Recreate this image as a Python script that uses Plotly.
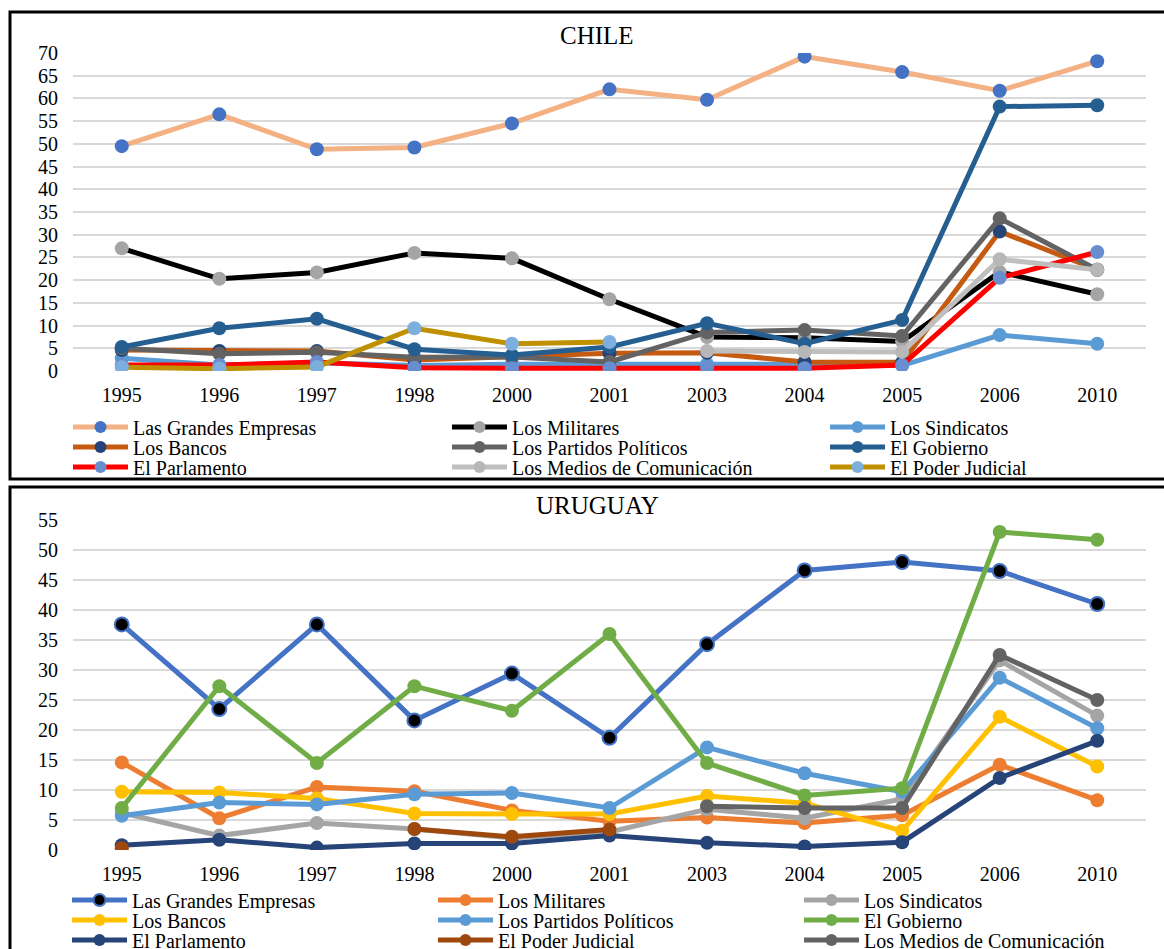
import plotly.graph_objects as go

# ---------------- data ----------------
years = ["1995", "1996", "1997", "1998", "2000", "2001", "2003", "2004", "2005", "2006", "2010"]

# Chile
cl_grandes_empresas = [49.5, 56.5, 48.8, 49.2, 54.5, 62.0, 59.7, 69.2, 65.8, 61.7, 68.2]
cl_militares = [27.0, 20.3, 21.7, 26.0, 24.8, 15.8, 7.5, 7.3, 6.5, 21.8, 16.9]
cl_sindicatos = [2.8, 1.3, 1.8, 1.2, 1.5, 1.5, 1.5, 1.5, 1.2, 7.9, 6.0]
cl_bancos = [4.6, 4.4, 4.4, 2.4, 3.1, 3.9, 4.0, 2.0, 1.9, 30.7, 22.3]
cl_partidos = [5.0, 3.8, 4.1, 3.0, 3.1, 2.0, 8.5, 9.0, 7.7, 33.6, 22.3]
cl_gobierno = [5.3, 9.4, 11.5, 4.8, 3.5, 5.3, 10.5, 6.0, 11.2, 58.2, 58.5]
cl_parlamento = [1.3, 1.3, 2.0, 0.7, 0.6, 0.6, 0.8, 0.6, 1.3, 20.5, 26.2]
cl_medios = [None, None, None, None, None, None, 4.4, 4.2, 4.2, 24.6, 22.3]
cl_poder_judicial = [0.8, 0.5, 0.9, 9.4, 6.0, 6.4, None, None, None, None, None]

# Uruguay
uy_grandes_empresas = [37.6, 23.5, 37.6, 21.6, 29.4, 18.7, 34.3, 46.6, 48.0, 46.5, 41.0]
uy_militares = [14.6, 5.3, 10.5, 9.8, 6.6, 4.8, 5.4, 4.5, 5.8, 14.2, 8.3]
uy_sindicatos = [6.2, 2.4, 4.5, 3.5, 2.0, 3.0, 6.8, 5.3, 8.5, 31.6, 22.4]
uy_bancos = [9.7, 9.6, 8.6, 6.1, 6.0, 6.0, 9.0, 7.8, 3.2, 22.2, 13.9]
uy_partidos = [5.7, 7.9, 7.6, 9.3, 9.5, 7.0, 17.1, 12.8, 9.7, 28.7, 20.3]
uy_gobierno = [7.0, 27.3, 14.5, 27.3, 23.2, 36.0, 14.5, 9.1, 10.3, 53.0, 51.7]
uy_parlamento = [0.8, 1.7, 0.4, 1.1, 1.1, 2.4, 1.2, 0.6, 1.3, 12.0, 18.2]
uy_poder_judicial = [0.3, None, None, 3.5, 2.2, 3.4, None, None, None, None, None]
uy_medios = [None, None, None, None, None, None, 7.3, 7.0, 7.0, 32.5, 25.0]

# ---------------- styling ----------------
W, H = 1164, 949
FONT = "Liberation Serif, Times New Roman, serif"


def px(x):
    return x / W


def py(y):
    return 1 - y / H


# (name, values, line colour, marker colour, marker outline)
chile = [
    ("Las Grandes Empresas", cl_grandes_empresas, "#F4B183", "#4472C4", None),
    ("Los Militares", cl_militares, "#000000", "#A5A5A5", None),
    ("Los Sindicatos", cl_sindicatos, "#5B9BD5", "#5B9BD5", None),
    ("Los Bancos", cl_bancos, "#C55A11", "#264478", None),
    ("Los Partidos Políticos", cl_partidos, "#636363", "#636363", None),
    ("El Gobierno", cl_gobierno, "#255E91", "#255E91", None),
    ("El Parlamento", cl_parlamento, "#FF0000", "#698ED0", None),
    ("Los Medios de Comunicación", cl_medios, "#BFBFBF", "#B7B7B7", None),
    ("El Poder Judicial", cl_poder_judicial, "#BF9000", "#7CAFDD", None),
]

uruguay = [
    ("Las Grandes Empresas", uy_grandes_empresas, "#4472C4", "#000000", "#4472C4"),
    ("Los Militares", uy_militares, "#ED7D31", "#ED7D31", None),
    ("Los Sindicatos", uy_sindicatos, "#A5A5A5", "#A5A5A5", None),
    ("Los Bancos", uy_bancos, "#FFC000", "#FFC000", None),
    ("Los Partidos Políticos", uy_partidos, "#5B9BD5", "#5B9BD5", None),
    ("El Gobierno", uy_gobierno, "#70AD47", "#70AD47", None),
    ("El Parlamento", uy_parlamento, "#264478", "#264478", None),
    ("El Poder Judicial", uy_poder_judicial, "#9E480E", "#9E480E", None),
    ("Los Medios de Comunicación", uy_medios, "#636363", "#636363", None),
]

# legend grid: column x (left of legend symbol) and row y centres, in pixels
chile_cols = [68, 447, 825]
chile_rows = [427, 447, 467]
uy_cols = [67, 433, 799]
uy_rows = [900, 920, 940]

legend_font = dict(family=FONT, size=20, color="#000000")
legend_common = dict(font=legend_font, bgcolor="rgba(0,0,0,0)", borderwidth=0,
                     itemwidth=55, itemsizing="constant", xanchor="left",
                     yanchor="middle", itemclick=False, itemdoubleclick=False)

fig = go.Figure()
legend_layout = {}
legend_counter = [0]


def add_panel(rows, xa, ya, cols, row_ys, msize):
    for i, (name, vals, lc, mc, mo) in enumerate(rows):
        legend_counter[0] += 1
        n = legend_counter[0]
        lid = "legend" if n == 1 else f"legend{n}"
        legend_layout[lid] = dict(x=px(cols[i % 3]), y=py(row_ys[i // 3]), **legend_common)
        marker = dict(color=mc, size=msize)
        if mo:
            marker["line"] = dict(color=mo, width=2)
        fig.add_trace(go.Scatter(
            x=years, y=vals, name=name, mode="lines+markers",
            line=dict(color=lc, width=5),
            marker=marker,
            xaxis=xa, yaxis=ya,
            legend=lid,
            connectgaps=False,
        ))


add_panel(chile, "x", "y", chile_cols, chile_rows, 14)
add_panel(uruguay, "x2", "y2", uy_cols, uy_rows, 14)

tick_font = dict(family=FONT, size=20, color="#000000")
xdom = [px(73), px(1146)]

common_x = dict(type="category", range=[-0.5, 10.5], showgrid=False, zeroline=False,
                showline=False, ticks="", tickfont=tick_font, ticklabelstandoff=10)
common_y = dict(dtick=5, showgrid=True, gridcolor="#D9D9D9", gridwidth=2, zeroline=False,
                showline=False, ticks="", tickfont=tick_font, ticklabelstandoff=14)

layout = dict(
    width=W, height=H,
    margin=dict(l=0, r=0, t=0, b=0, autoexpand=False),
    paper_bgcolor="#FFFFFF", plot_bgcolor="#FFFFFF",
    showlegend=True,
    xaxis=dict(domain=xdom, anchor="y", **common_x),
    yaxis=dict(domain=[py(371), py(53)], range=[0, 70], anchor="x", **common_y),
    xaxis2=dict(domain=xdom, anchor="y2", **common_x),
    yaxis2=dict(domain=[py(850), py(520)], range=[0, 55], anchor="x2", **common_y),
    annotations=[
        dict(text="CHILE", x=px(597), y=py(36), xref="paper", yref="paper",
             xanchor="center", yanchor="middle", showarrow=False,
             font=dict(family=FONT, size=25, color="#000000")),
        dict(text="URUGUAY", x=px(597), y=py(505), xref="paper", yref="paper",
             xanchor="center", yanchor="middle", showarrow=False,
             font=dict(family=FONT, size=25, color="#000000")),
    ],
    shapes=[
        dict(type="rect", xref="paper", yref="paper",
             x0=px(10), x1=px(1180), y0=py(479), y1=py(12),
             line=dict(color="#000000", width=3), fillcolor="rgba(0,0,0,0)"),
        dict(type="rect", xref="paper", yref="paper",
             x0=px(10), x1=px(1180), y0=py(970), y1=py(487),
             line=dict(color="#000000", width=3), fillcolor="rgba(0,0,0,0)"),
    ],
    **legend_layout,
)

fig.update_layout(**layout)
fig.write_html("out.html")
